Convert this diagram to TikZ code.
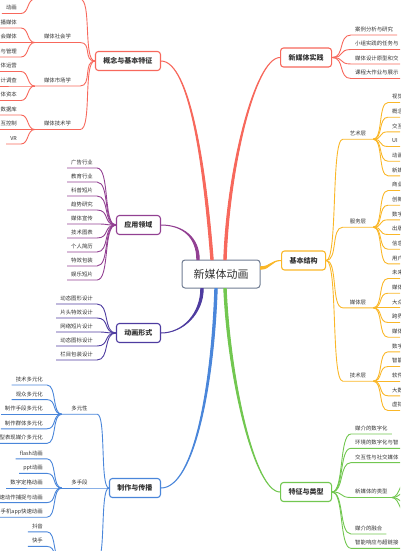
\documentclass[tikz,border=0pt]{standalone}
\usepackage{fontspec}
\setmainfont{Noto Sans CJK SC}
\usetikzlibrary{calc}
\definecolor{linkred}{RGB}{247,104,92}
\definecolor{linkorange}{RGB}{250,183,40}
\definecolor{linkpurple}{RGB}{146,64,146}
\definecolor{linkindigo}{RGB}{78,60,160}
\definecolor{linkblue}{RGB}{74,134,218}
\definecolor{linkgreen}{RGB}{114,199,80}
\definecolor{rootgray}{RGB}{112,124,146}
\definecolor{txtgray}{RGB}{51,51,51}

\begin{document}
\begin{tikzpicture}[
    x=1pt, y=-1pt,
    every node/.style={text=txtgray},
    root/.style={draw=rootgray, line width=1pt, rounded corners=3pt, fill=white, minimum width=78pt, minimum height=28pt, font=\fontsize{11}{13}\selectfont},
    topic/.style={draw, line width=1.1pt, rounded corners=3pt, fill=white, inner xsep=8pt, minimum height=19pt, font=\fontsize{7}{8}\selectfont\bfseries},
    leaf/.style={inner xsep=4pt, inner ysep=2.8pt, text height=4.4pt, text depth=.6pt, font=\fontsize{5.4}{6}\selectfont},
    leafl/.style={leaf, anchor=south east},
    leafr/.style={leaf, anchor=south west},
    sub/.style={leaf, anchor=south},
    link/.style={line width=.9pt}
  ]
  \path[use as bounding box] (0,0) rectangle (400,551);
  \clip (0,0) rectangle (400,551);

  % centre and main topics
  \node[root] (root) at (221,274) {新媒体动画};
  \node[topic, draw=linkred, anchor=east] (concept) at (161,61) {概念与基本特征};
  \node[topic, draw=linkred, anchor=west] (practice) at (280,57.5) {新媒体实践};
  \node[topic, draw=linkorange, anchor=west] (structure) at (281,260.5) {基本结构};
  \node[topic, draw=linkpurple, anchor=east] (field) at (161,225) {应用领域};
  \node[topic, draw=linkindigo, anchor=east] (form) at (161,333) {动画形式};
  \node[topic, draw=linkblue, anchor=east] (making) at (161,488) {制作与传播};
  \node[topic, draw=linkgreen, anchor=west] (feature) at (280,492) {特征与类型};

  % tapered main links
  \filldraw[linkred, line width=1pt] ($(root.north)+(-7.8,0)$) .. controls +(-7,-90) and +(29,0) .. (concept.east)
    .. controls +(29,0) and +(-7,-90) .. ($(root.north)+(-10.2,0)$) -- cycle;
  \filldraw[linkred, line width=1pt] ($(root.north)+(5.2,0)$) .. controls +(3,-90) and +(-25,0) .. (practice.west)
    .. controls +(-25,0) and +(3,-90) .. ($(root.north)+(2.8,0)$) -- cycle;
  \filldraw[linkorange, line width=1pt] ($(root.east)+(0,-7.2)$) .. controls +(10,0) and +(-10,0) .. (structure.west)
    .. controls +(-10,0) and +(10,0) .. ($(root.east)+(0,-4.8)$) -- cycle;
  \filldraw[linkpurple, line width=1pt] ($(root.north)+(-21.8,0)$) .. controls +(0,-22) and +(22,0) .. (field.east)
    .. controls +(22,0) and +(0,-22) .. ($(root.north)+(-24.2,0)$) -- cycle;
  \filldraw[linkindigo, line width=1pt] ($(root.south)+(-17.8,0)$) .. controls +(0,25) and +(22,0) .. (form.east)
    .. controls +(22,0) and +(0,25) .. ($(root.south)+(-20.2,0)$) -- cycle;
  \filldraw[linkblue, line width=1pt] ($(root.south)+(-3.8,0)$) .. controls +(-3,92) and +(34,0) .. (making.east)
    .. controls +(34,0) and +(-3,92) .. ($(root.south)+(-6.2,0)$) -- cycle;
  \filldraw[linkgreen, line width=1pt] ($(root.south)+(5.2,0)$) .. controls +(4,92) and +(-25,0) .. (feature.west)
    .. controls +(-25,0) and +(4,92) .. ($(root.south)+(2.8,0)$) -- cycle;

  % 概念与基本特征
  \coordinate (s10e) at (80,-1);
  \coordinate (s10w) at (35,-1);
  \draw[link, linkred] (concept.west) .. controls +(-12,0) and +(12,0) .. (s10e) -- (s10w);
  \node[leafl] (l10) at (21,13.5) {动画};
  \draw[link, linkred] (s10w) .. controls +(-8,0) and +(8,0) .. (l10.south east) -- (l10.south west);
  \foreach \n/\y/\t in {s11/42.5/媒体社会学, s12/86/媒体市场学, s13/129.5/媒体技术学} {
    \node[sub, minimum width=45pt] (\n) at (57.5,\y) {\t};
    \draw[link, linkred] (concept.west) .. controls +(-12,0) and +(12,0) .. (\n.south east) -- (\n.south west);
  }
  \foreach \p/\y/\t [count=\i] in {s11/28/播媒体, s11/42.5/会媒体, s11/57/与管理,
      s12/71.5/体运营, s12/86/计调查, s12/100.5/体资本,
      s13/115/数据库, s13/129.5/互控制, s13/144/VR} {
    \node[leafl] (l1\i) at (21,\y) {\t};
    \draw[link, linkred] (\p.south west) .. controls +(-8,0) and +(8,0) .. (l1\i.south east) -- (l1\i.south west);
  }

  % 新媒体实践
  \foreach \y/\t [count=\i] in {35/案例分析与研究, 49.5/小组实践的任务与, 64/媒体设计原型和交, 78.5/课程大作业与展示} {
    \node[leafr] (l2\i) at (351,\y) {\t};
    \draw[link, linkred] (practice.east) .. controls +(13,0) and +(-13,0) .. (l2\i.south west) -- (l2\i.south east);
  }

  % 基本结构
  \foreach \n/\y/\t in {art/139.2/艺术层, serve/227.2/服务层, media/307.8/媒体层, tech/381.2/技术层} {
    \node[sub, minimum width=30pt] (\n) at (358,\y) {\t};
    \draw[link, linkorange] (structure.east) .. controls +(12,0) and +(-12,0) .. (\n.south west) -- (\n.south east);
  }
  \foreach \p/\y/\t [count=\i] in {art/102.5/视觉, art/117.2/概念, art/131.8/交互, art/146.5/UI, art/161.2/动画, art/175.8/新媒,
      serve/190.5/商业, serve/205.2/创新, serve/219.8/数字, serve/234.5/出版, serve/249.2/信息, serve/263.8/用户,
      media/278.5/未来, media/293.2/媒体, media/307.8/大众, media/322.5/跨界, media/337.2/媒体,
      tech/351.8/数字, tech/366.5/智能, tech/381.2/软件, tech/395.8/大数, tech/410.5/虚拟} {
    \node[leafr] (l3\i) at (388,\y) {\t};
    \draw[link, linkorange] (\p.south east) .. controls +(10,0) and +(-10,0) .. (l3\i.south west) -- (l3\i.south east);
  }

  % 应用领域
  \foreach \t [count=\i] in {广告行业, 教育行业, 科普短片, 趋势研究, 媒体宣传, 技术图表, 个人简历, 特效包装, 娱乐短片} {
    \node[leafl] (l4\i) at (97,{154+14*\i}) {\t};
    \draw[link, linkpurple] (field.west) .. controls +(-13,0) and +(13,0) .. (l4\i.south east) -- (l4\i.south west);
  }

  % 动画形式
  \foreach \t [count=\i] in {动态图形设计, 片头特效设计, 网络短片设计, 动态图标设计, 栏目包装设计} {
    \node[leafl] (l5\i) at (97,{290+14*\i}) {\t};
    \draw[link, linkindigo] (form.west) .. controls +(-13,0) and +(13,0) .. (l5\i.south east) -- (l5\i.south west);
  }

  % 制作与传播
  \foreach \n/\y/\t in {multi/414.2/多元性, means/488/多手段} {
    \node[sub, minimum width=35pt] (\n) at (79.5,\y) {\t};
    \draw[link, linkblue] (making.west) .. controls +(-9,0) and +(9,0) .. (\n.south east) -- (\n.south west);
  }
  \foreach \p/\y/\t [count=\i] in {multi/385/技术多元化, multi/399.6/观众多元化, multi/414.2/制作手段多元化,
      multi/428.8/制作群体多元化, multi/443.4/型表现媒介多元化,
      means/458.8/flash动画, means/473.4/ppt动画, means/488/数字定格动画,
      means/502.6/速动作捕捉与动画, means/517.2/手机app快速动画} {
    \node[leafl] (l6\i) at (47,\y) {\t};
    \draw[link, linkblue] (\p.south west) .. controls +(-10,0) and +(10,0) .. (l6\i.south east) -- (l6\i.south west);
  }
  \coordinate (chane) at (97,561);
  \coordinate (chanw) at (62,561);
  \draw[link, linkblue] (making.west) .. controls +(-9,0) and +(9,0) .. (chane) -- (chanw);
  \foreach \y/\t [count=\i] in {531.8/抖音, 546.4/快手} {
    \node[leafl] (l7\i) at (47,\y) {\t};
    \draw[link, linkblue] (chanw) .. controls +(-10,0) and +(10,0) .. (l7\i.south east) -- (l7\i.south west);
  }

  % 特征与类型
  \foreach \y/\t [count=\i] in {434/媒介的数字化, 448.3/环境的数字化与智, 462.6/交互性与社交媒体, 534/媒介的融合, 548.3/智能响应与超链接} {
    \node[leafr] (l8\i) at (351,\y) {\t};
    \draw[link, linkgreen] (feature.east) .. controls +(12,0) and +(-12,0) .. (l8\i.south west) -- (l8\i.south east);
  }
  \node[leafr] (types) at (351,497.5) {新媒体的类型};
  \draw[link, linkgreen] (feature.east) .. controls +(12,0) and +(-12,0) .. (types.south west) -- (types.south east);
  \foreach \y [count=\i] in {475.6, 490.2, 504.8, 519.4} {
    \coordinate (k\i) at (412,\y);
    \draw[link, linkgreen] (types.south east) .. controls +(9,0) and +(-12,0) .. (k\i);
  }
\end{tikzpicture}
\end{document}
